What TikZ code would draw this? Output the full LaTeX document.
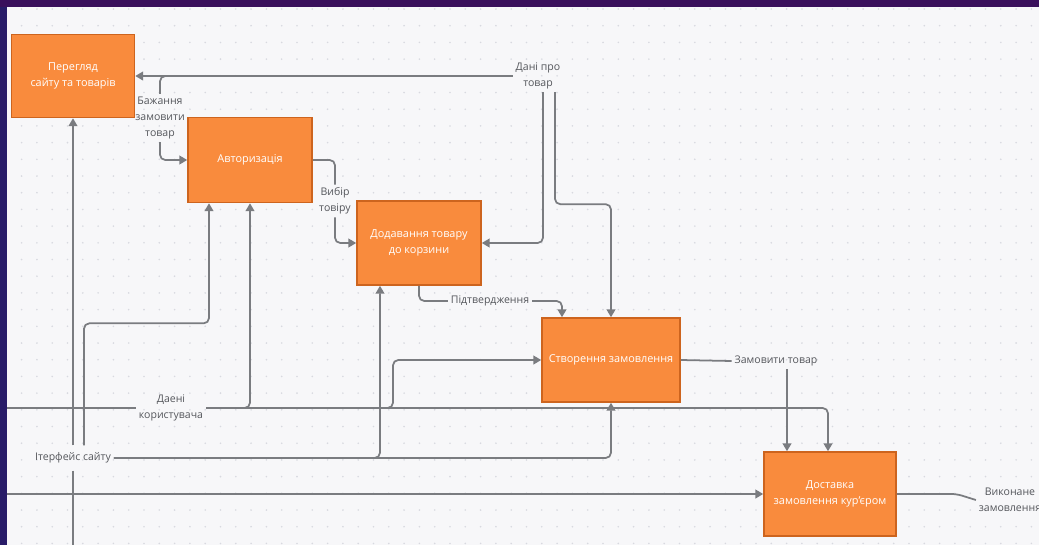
\documentclass[tikz,border=0pt]{standalone}
\usepackage{fontspec}
\setmainfont{Open Sans}
\usetikzlibrary{arrows.meta,calc,positioning}
\definecolor{boxfill}{RGB}{249,139,61}
\definecolor{boxedge}{RGB}{205,100,30}
\definecolor{flowgray}{RGB}{122,124,128}
\definecolor{labelgray}{RGB}{85,87,92}
\definecolor{canvas}{RGB}{247,247,249}
\definecolor{griddot}{RGB}{216,217,224}
\definecolor{frametop}{RGB}{58,16,92}
\definecolor{frameleft}{RGB}{40,28,104}

\begin{document}
\begin{tikzpicture}[
  x=0.02cm, y=-0.02cm,
  proc/.style={
    draw=boxedge,
    line width=0.9pt,
    fill=boxfill,
    text=white,
    minimum width=#1,
    minimum height=1.68cm,
    align=center,
    font=\fontsize{6.2}{9}\selectfont
  },
  proc/.default=2.48cm,
  lbl/.style={
    text=labelgray,
    align=center,
    inner sep=1.5pt,
    font=\fontsize{6}{9.2}\selectfont
  },
  wire/.style={draw=flowgray, line width=1pt, rounded corners=3pt},
  flow/.style={wire, -{Triangle[width=5pt,length=4.5pt]}}
]
\useasboundingbox (0,0) rectangle (1039,545);

% -------- Frame and dotted canvas --------
\fill[frameleft] (0,0) rectangle (1039,545);
\fill[frametop] (0,0) rectangle (1039,7);
\fill[canvas] (7,7) rectangle (1039,545);
\foreach \i in {0,...,66}
  \foreach \j in {0,...,32}
    \fill[griddot] (21.6+15.3*\i, 9+16.7*\j) circle (0.9);

% -------- Processes --------
\node[proc=2.46cm, minimum height=1.66cm] (view) at (73,76) {Перегляд\\сайту та товарів};
\node[proc, minimum height=1.70cm] (auth) at (250,160) {Авторизація};
\node[proc] (cart) at (419,243) {Додавання товару\\до корзини};
\node[proc=2.76cm] (order) at (611,360) {Створення замовлення};
\node[proc=2.64cm] (deliv) at (830,494) {Доставка\\замовлення кур'єром};

% -------- Labels --------
\node[lbl] (lprod) at (538,76) {Дані про\\товар};
\node[lbl] (lwish) at (160,118) {Бажання\\замовити\\товар};
\node[lbl] (lchoice) at (335,201) {Вибір\\товіру};
\node[lbl] (lconf) at (490,301) {Підтвердження};
\node[lbl] (lorder) at (776,361) {Замовити товар};
\node[lbl] (luser) at (171,408) {Даені\\користувача};
\node[lbl, inner ysep=4pt] (lui) at (73,458) {Ітерфейс сайту};
\node[lbl] (ldone) at (1010,500) {Виконане\\замовлення};

% -------- Free ends --------
\coordinate (uedge) at (7,408);
\coordinate (dedge) at (7,494);
\coordinate (bedge) at (73,545);
\coordinate (oc) at ($(order.north)+(-49,0)$);
\coordinate (dc) at ($(deliv.north)+(-43,0)$);

% -------- Product data --------
\draw[flow] (lprod.west |- view.east) -- (view.east);
\draw[flow] ($(lprod.south)+(5,0)$) |- (cart.east);
\draw[flow] ($(lprod.south)+(17,0)$) -- ++(0,112) -| (order.north);

% -------- Wish to order --------
\draw[wire] ($(lwish.north |- view.east)+(9,0)$) -| (lwish.north);
\draw[flow] (lwish.south) |- (auth.west);

% -------- Choice and confirmation --------
\draw[wire] (auth.east) -| (lchoice.north);
\draw[flow] (lchoice.south) |- (cart.west);
\draw[wire] (cart.south) |- (lconf.west);
\draw[flow] (lconf.east) -| (oc);

% -------- Order to delivery --------
\draw[wire] (order.east) -- (lorder.west);
\draw[flow] (lorder.south -| dc) -- (dc);

% -------- User data --------
\draw[wire] (uedge) -- (luser.west);
\draw[flow] (luser.east) -| (auth.south);
\draw[flow] (luser.east) -- (393,408) |- (order.west);
\draw[flow] (luser.east) -| ($(deliv.north)+(-2,0)$);

% -------- Site interface --------
\draw[flow] (lui.north -| view.south) -- (view.south);
\draw[flow] ($(lui.north)+(11,0)$) -- ++(0,-122) -| ($(auth.south)+(-41,0)$);
\draw[wire] (lui.south -| view.south) -- (bedge);
\draw[flow] (lui.east) -| ($(cart.south)+(-39,0)$);
\draw[flow] (lui.east) -| (order.south);

% -------- Delivery --------
\draw[flow] (dedge) -- (deliv.west);
\draw[wire] (deliv.east) -- ++(60,0) -- (ldone.west);

\end{tikzpicture}
\end{document}
